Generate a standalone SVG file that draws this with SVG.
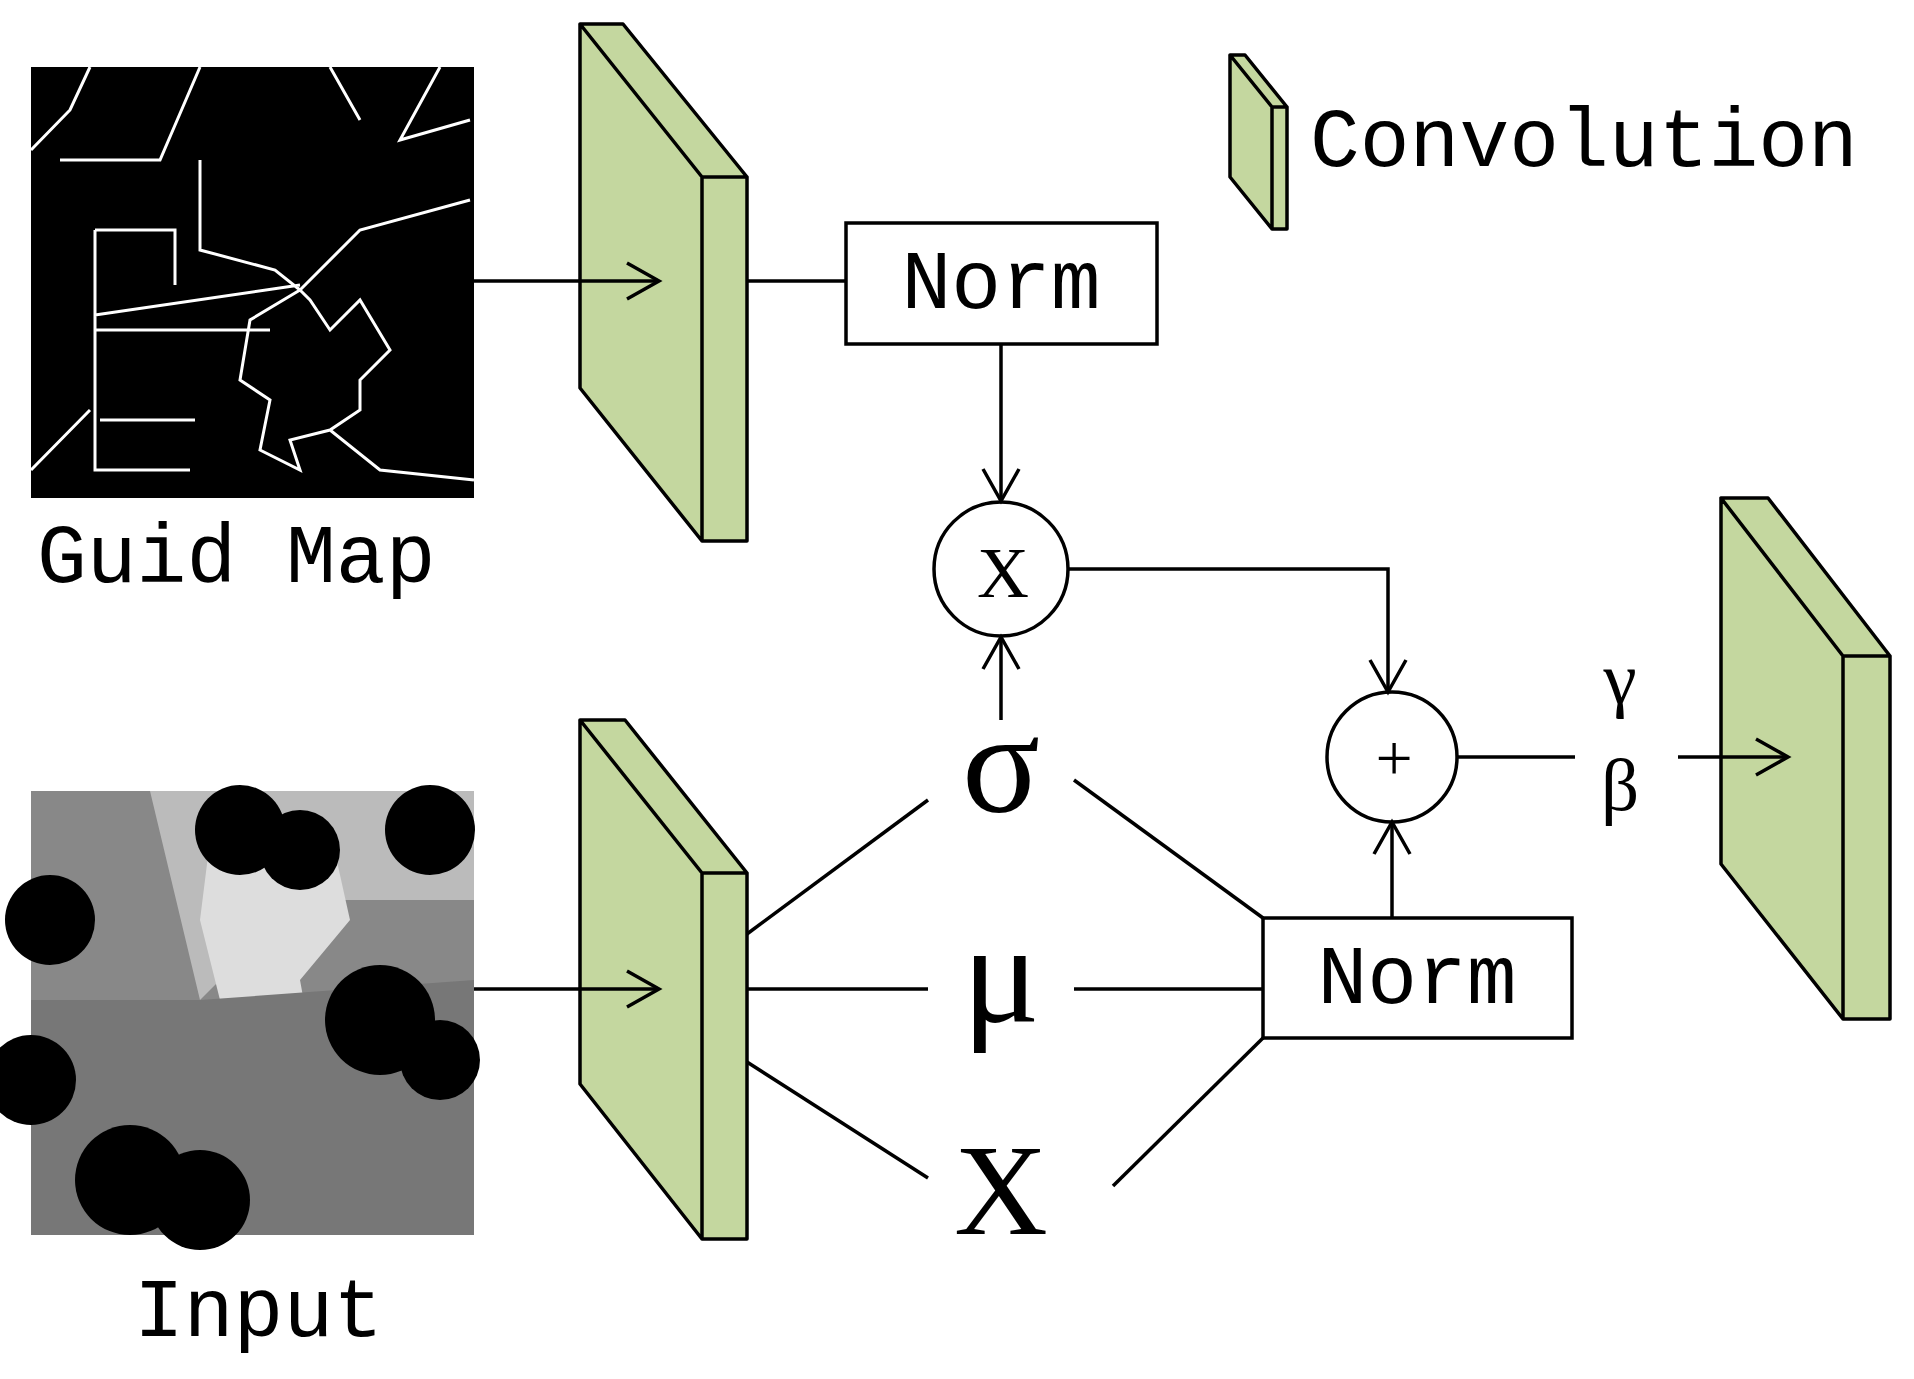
<svg xmlns="http://www.w3.org/2000/svg" width="1914" height="1379" viewBox="0 0 1914 1379">
<style>
.ln{stroke:#000;stroke-width:3.5;fill:none}
.g{fill:#c4d79f;stroke:#000;stroke-width:3.5;stroke-linejoin:round}
.box{fill:#fff;stroke:#000;stroke-width:3.5}
.m{font-family:"Liberation Mono",monospace;font-size:83px;fill:#000}
.s{font-family:"Liberation Serif",serif;fill:#000;text-anchor:middle}
.w{stroke:#fff;stroke-width:3;fill:none}
</style>
<defs>
<marker id="a" markerWidth="40" markerHeight="40" refX="36" refY="20" orient="auto" markerUnits="userSpaceOnUse">
<path d="M4,2 L36,20 L4,38" fill="none" stroke="#000" stroke-width="3.5"/>
</marker>
</defs>
<rect width="1914" height="1379" fill="#fff"/>
<g id="guidmap">
<rect x="31" y="67" width="443" height="431" fill="#000"/>
<path class="w" d="M31,150 L70,110 L90,67 M60,160 L160,160 L200,67 M200,160 L200,250 L275,270 L300,290 M95,230 L175,230 L175,285 M95,230 L95,470 L190,470 M95,315 L300,285 M95,330 L270,330 M100,420 L195,420 M300,290 L250,320 L240,380 L270,400 L260,450 L300,470 L290,440 L330,430 L360,410 L360,380 L390,350 L360,300 L330,330 L310,300 L300,290 M300,290 L360,230 L470,200 M440,67 L400,140 L470,120 M31,470 L90,410 M330,430 L380,470 L474,480 M330,67 L360,120"/>
<text class="m" x="37" y="582">Guid Map</text>
</g>
<g id="input">
<rect x="31" y="791" width="443" height="444" fill="#888"/>
<path d="M120,791 L474,791 L474,900 L300,900 L200,1000 L150,791Z" fill="#bbb"/>
<path d="M210,840 L330,830 L350,920 L300,980 L320,1090 L280,1130 L240,1110 L260,1040 L220,1000 L200,920Z" fill="#ddd"/>
<path d="M31,1000 L200,1000 L474,980 L474,1235 L31,1235Z" fill="#777"/>
<circle cx="240" cy="830" r="45" fill="#000"/><circle cx="300" cy="850" r="40" fill="#000"/>
<circle cx="430" cy="830" r="45" fill="#000"/><circle cx="50" cy="920" r="45" fill="#000"/>
<circle cx="380" cy="1020" r="55" fill="#000"/><circle cx="440" cy="1060" r="40" fill="#000"/>
<circle cx="31" cy="1080" r="45" fill="#000"/><circle cx="130" cy="1180" r="55" fill="#000"/><circle cx="200" cy="1200" r="50" fill="#000"/>
<text class="m" x="134" y="1336">Input</text>
</g>
<g id="conv1"><path class="g" d="M580,24 L623,24 L747,177 L702,177Z M580,24 L702,177 L702,541 L580,388Z M702,177 L747,177 L747,541 L702,541Z"/></g>
<g id="conv2"><path class="g" d="M580,720 L625,720 L747,873 L702,873Z M580,720 L702,873 L702,1239 L580,1084Z M702,873 L747,873 L747,1239 L702,1239Z"/></g>
<g id="conv3"><path class="g" d="M1721,498 L1768,498 L1890,656 L1843,656Z M1721,498 L1843,656 L1843,1019 L1721,864Z M1843,656 L1890,656 L1890,1019 L1843,1019Z"/></g>
<g id="legend"><path class="g" d="M1230,55 L1245,55 L1287,107 L1272,107Z M1230,55 L1272,107 L1272,229 L1230,177Z M1272,107 L1287,107 L1287,229 L1272,229Z"/>
<text class="m" x="1310" y="166">Convolution</text></g>
<g id="norm1"><rect class="box" x="846" y="223" width="311" height="121"/><text class="m" x="1001" y="308" text-anchor="middle">Norm</text></g>
<g id="norm2"><rect class="box" x="1263" y="918" width="309" height="120"/><text class="m" x="1417" y="1003" text-anchor="middle">Norm</text></g>
<g id="mul"><circle class="box" cx="1001" cy="569" r="67"/><text class="s" x="1003" y="597" font-size="72">X</text></g>
<g id="add"><circle class="box" cx="1392" cy="757" r="65"/><text class="s" x="1394" y="780" font-size="66">+</text></g>
<g id="sigma"><text class="s" x="1001" y="812" font-size="145">σ</text></g>
<g id="mu"><text class="s" x="1001" y="1022" font-size="145">μ</text></g>
<g id="x"><text class="s" x="1001" y="1234" font-size="130">X</text></g>
<g id="gb"><text class="s" x="1620" y="703" font-size="75">γ</text><text class="s" x="1620" y="810" font-size="75">β</text></g>
<g id="connectors">
<path class="ln" d="M474,281 L659,281" marker-end="url(#a)"/>
<path class="ln" d="M747,281 L846,281"/>
<path class="ln" d="M1001,344 L1001,501" marker-end="url(#a)"/>
<path class="ln" d="M1068,569 L1388,569 L1388,692" marker-end="url(#a)"/>
<path class="ln" d="M1001,720 L1001,637" marker-end="url(#a)"/>
<path class="ln" d="M474,989 L659,989" marker-end="url(#a)"/>
<path class="ln" d="M747,934 L928,800"/>
<path class="ln" d="M747,989 L928,989"/>
<path class="ln" d="M747,1062 L928,1178"/>
<path class="ln" d="M1074,780 L1263,918"/>
<path class="ln" d="M1074,989 L1263,989"/>
<path class="ln" d="M1113,1186 L1263,1038"/>
<path class="ln" d="M1392,918 L1392,822" marker-end="url(#a)"/>
<path class="ln" d="M1457,757 L1575,757"/>
<path class="ln" d="M1678,757 L1788,757" marker-end="url(#a)"/>
</g>
</svg>
